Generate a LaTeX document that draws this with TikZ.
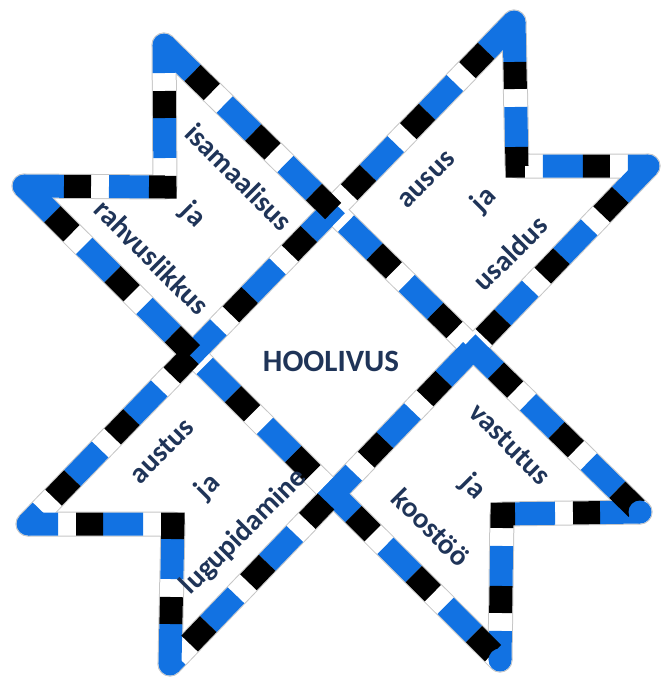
\documentclass[tikz,border=0pt]{standalone}
\usepackage{fontspec}
\setmainfont{Carlito}
\definecolor{flagblue}{RGB}{18,114,226}
\definecolor{textnavy}{RGB}{31,52,88}
\tikzset{
  bandedge/.style={line width=25pt, draw=gray!45, line cap=round, line join=round},
  bandwhite/.style={line width=23pt, draw=white, line cap=round, line join=round},
  bandblue/.style={line width=23pt, draw=flagblue, dash pattern=on 40pt off 45pt},
  bandblack/.style={line width=23pt, draw=black, dash pattern=on 27pt off 58pt, dash phase=45pt},
  word/.style={text=textnavy, font=\bfseries\fontsize{29}{29}\selectfont, inner sep=0pt},
}

\begin{document}
\begin{tikzpicture}[x=1pt, y=-1pt]
  \useasboundingbox (0,0) rectangle (662,682);
  % star tips
  \coordinate (t1) at (164,45);
  \coordinate (t2) at (514,22);
  \coordinate (t3) at (648,166);
  \coordinate (t4) at (640,512);
  \coordinate (t5) at (500,660);
  \coordinate (t6) at (170,664);
  \coordinate (t7) at (28,524);
  \coordinate (t8) at (24,186);
  % square notches
  \coordinate (n81) at (165,187);
  \coordinate (n23) at (517,166);
  \coordinate (n45) at (502,514);
  \coordinate (n67) at (173,524);
  % band: edge, white, blue, black
  \foreach \lay in {bandedge,bandwhite,bandblue,bandblack}{
    \draw[\lay] (t1) -- (t4);
    \draw[\lay] (t2) -- (t7);
    \draw[\lay] (t3) -- (t6);
    \draw[\lay] (t8) -- (t5);
    \draw[\lay] (t8) -- (n81) -- (t1);
    \draw[\lay] (t2) -- (n23) -- (t3);
    \draw[\lay] (t4) -- (n45) -- (t5);
    \draw[\lay] (t6) -- (n67) -- (t7);
  }
  \foreach \t in {1,...,8} \fill[flagblue] (t\t) circle[radius=11.5];
  % words
  \node[word, rotate=-45] (isamaa) at (239,177) {isamaalisus};
  \node[word, rotate=-45] (ja1) at (193,215) {ja};
  \node[word, rotate=-45] (rahvus) at (152,257) {rahvuslikkus};
  \node[word, rotate=45] (ausus) at (427,180) {ausus};
  \node[word, rotate=45] (ja2) at (484,200) {ja};
  \node[word, rotate=45] (usaldus) at (510,253) {usaldus};
  \node[word, rotate=45] (austus) at (162,451) {austus};
  \node[word, rotate=45] (ja3) at (208,487) {ja};
  \node[word, rotate=45] (lugu) at (244,532) {lugupidamine};
  \node[word, rotate=-45] (vastutus) at (510,444) {vastutus};
  \node[word, rotate=-45] (ja4) at (473,487) {ja};
  \node[word, rotate=-45] (koostoo) at (431,527) {koostöö};
  \node[word, font=\bfseries\fontsize{31}{31}\selectfont] (hoolivus) at (331,361) {HOOLIVUS};
\end{tikzpicture}
\end{document}
